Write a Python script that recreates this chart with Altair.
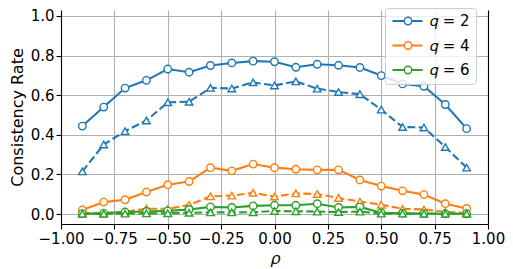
import altair as alt
import pandas as pd

rho = [-0.9, -0.8, -0.7, -0.6, -0.5, -0.4, -0.3, -0.2, -0.1, 0.0,
       0.1, 0.2, 0.3, 0.4, 0.5, 0.6, 0.7, 0.8, 0.9]

q_labels = ["𝑞 = 2", "𝑞 = 4", "𝑞 = 6"]
colors = ["#1f77b4", "#ff7f0e", "#2ca02c"]

q2_solid = [0.444, 0.540, 0.636, 0.675, 0.732, 0.716, 0.750, 0.763, 0.772, 0.769,
            0.741, 0.756, 0.751, 0.740, 0.699, 0.657, 0.645, 0.553, 0.431]
q2_dashed = [0.215, 0.351, 0.418, 0.472, 0.564, 0.567, 0.637, 0.634, 0.665, 0.649,
             0.670, 0.633, 0.616, 0.605, 0.527, 0.439, 0.437, 0.338, 0.234]
q4_solid = [0.020, 0.060, 0.072, 0.111, 0.148, 0.164, 0.234, 0.218, 0.252, 0.234,
            0.226, 0.223, 0.223, 0.172, 0.141, 0.117, 0.098, 0.052, 0.028]
q4_dashed = [0.003, 0.006, 0.011, 0.027, 0.026, 0.046, 0.089, 0.093, 0.107, 0.088,
             0.104, 0.101, 0.081, 0.063, 0.047, 0.026, 0.023, 0.011, 0.006]
q6_solid = [0.002, 0.003, 0.010, 0.013, 0.016, 0.023, 0.036, 0.033, 0.041, 0.044,
            0.044, 0.052, 0.033, 0.036, 0.006, 0.004, 0.002, 0.001, 0.001]
q6_dashed = [0.001, 0.001, 0.002, 0.003, 0.004, 0.006, 0.008, 0.008, 0.009, 0.015,
             0.014, 0.012, 0.010, 0.012, 0.002, 0.002, 0.001, 0.001, 0.001]

series = [
    (q_labels[0], "solid", q2_solid), (q_labels[0], "dashed", q2_dashed),
    (q_labels[1], "solid", q4_solid), (q_labels[1], "dashed", q4_dashed),
    (q_labels[2], "solid", q6_solid), (q_labels[2], "dashed", q6_dashed),
]

# point-legend keys differ (trailing space) so the two legends are not merged
p_labels = [s + " " for s in q_labels]

rows = []
for q, style, vals in series:
    for r, v in zip(rho, vals):
        rows.append({"rho": r, "value": v, "q": q, "qp": q + " ", "style": style})
df = pd.DataFrame(rows)

FONT = "DejaVu Sans"
TICK_FS = 15
TITLE_FS = 16

xscale = alt.Scale(domain=[-1.0, 1.0], nice=False, zero=False)
yscale = alt.Scale(domain=[-0.0505, 1.0303], nice=False, zero=False)

x_axis = alt.Axis(values=[-1.0, -0.75, -0.5, -0.25, 0.0, 0.25, 0.5, 0.75, 1.0],
                  labelExpr="replace(format(datum.value, '.2f'), '-', '\u2212')",
                  labelFlush=False, labelOverlap=False,
                  title="𝜌", titlePadding=4)
y_axis = alt.Axis(values=[0.0, 0.2, 0.4, 0.6, 0.8, 1.0], format=".1f",
                  labelOverlap=False, labelFlush=False,
                  title="Consistency Rate", titlePadding=5)
y_axis_right = alt.Axis(orient="right", labels=False, ticks=False, grid=False,
                        domain=True, title=None, domainColor="black", domainWidth=1.1)

LX, LY = 324, -2
line_legend = alt.Legend(orient="none", legendX=LX, legendY=LY, title=None,
                         symbolType="stroke", symbolSize=900, symbolStrokeWidth=2.1,
                         labelFont=FONT, labelFontSize=TICK_FS, labelColor="black",
                         labelOffset=6, rowPadding=9.5, clipHeight=14,
                         padding=6, fillColor="rgba(255,255,255,0.8)",
                         strokeColor="#cccccc", cornerRadius=3)
point_legend = alt.Legend(orient="none", legendX=LX, legendY=LY, title=None,
                          symbolType="circle", symbolSize=56, symbolStrokeWidth=1.4,
                          symbolFillColor="white", symbolOffset=9.5,
                          labelExpr="''", labelFont=FONT, labelFontSize=TICK_FS,
                          labelOffset=6, rowPadding=9.5, clipHeight=14,
                          padding=6)

color_scale = alt.Scale(domain=q_labels, range=colors)
stroke_scale = alt.Scale(domain=p_labels, range=colors)

layers = []
for q, style, vals in series:
    sub = df[(df.q == q) & (df["style"] == style)]
    base = alt.Chart(sub)
    line_kw = dict(strokeWidth=2.1, clip=True)
    if style == "dashed":
        line_kw["strokeDash"] = [7.8, 3.4]
    line = base.mark_line(**line_kw).encode(
        x=alt.X("rho:Q", scale=xscale, axis=x_axis),
        y=alt.Y("value:Q", scale=yscale, axis=y_axis),
        color=alt.Color("q:N", scale=color_scale, legend=line_legend),
    )
    shape = "circle" if style == "solid" else "triangle-up"
    pts = base.mark_point(shape=shape, filled=True, fill="white", size=56,
                          strokeWidth=1.4, opacity=1, clip=True).encode(
        x=alt.X("rho:Q", scale=xscale, axis=x_axis),
        y=alt.Y("value:Q", scale=yscale, axis=y_axis),
        stroke=alt.Stroke("qp:N", scale=stroke_scale, legend=point_legend),
    )
    layers += [line, pts]

main = alt.layer(*layers)

spine = alt.Chart(df).mark_point(opacity=0).encode(
    x=alt.X("rho:Q", scale=xscale, axis=x_axis),
    y=alt.Y("value:Q", scale=yscale, axis=y_axis_right),
)

chart = alt.layer(main, spine).resolve_axis(y="independent").properties(
    width=427, height=214,
    autosize=alt.AutoSizeParams(type="none"),
    padding={"left": 53, "top": 2, "right": 17, "bottom": 45},
).configure_view(stroke=None).configure_axis(
    labelFont=FONT, labelFontSize=TICK_FS, labelColor="black",
    titleFont=FONT, titleFontSize=TITLE_FS, titleFontWeight="normal", titleColor="black",
    domainColor="black", domainWidth=1.1, tickColor="black", tickWidth=1.1,
    tickSize=5, labelPadding=2, gridColor="#b0b0b0", gridWidth=1.1, grid=True,
)

chart.save("out.html", embed_options={"renderer": "svg", "actions": False})
